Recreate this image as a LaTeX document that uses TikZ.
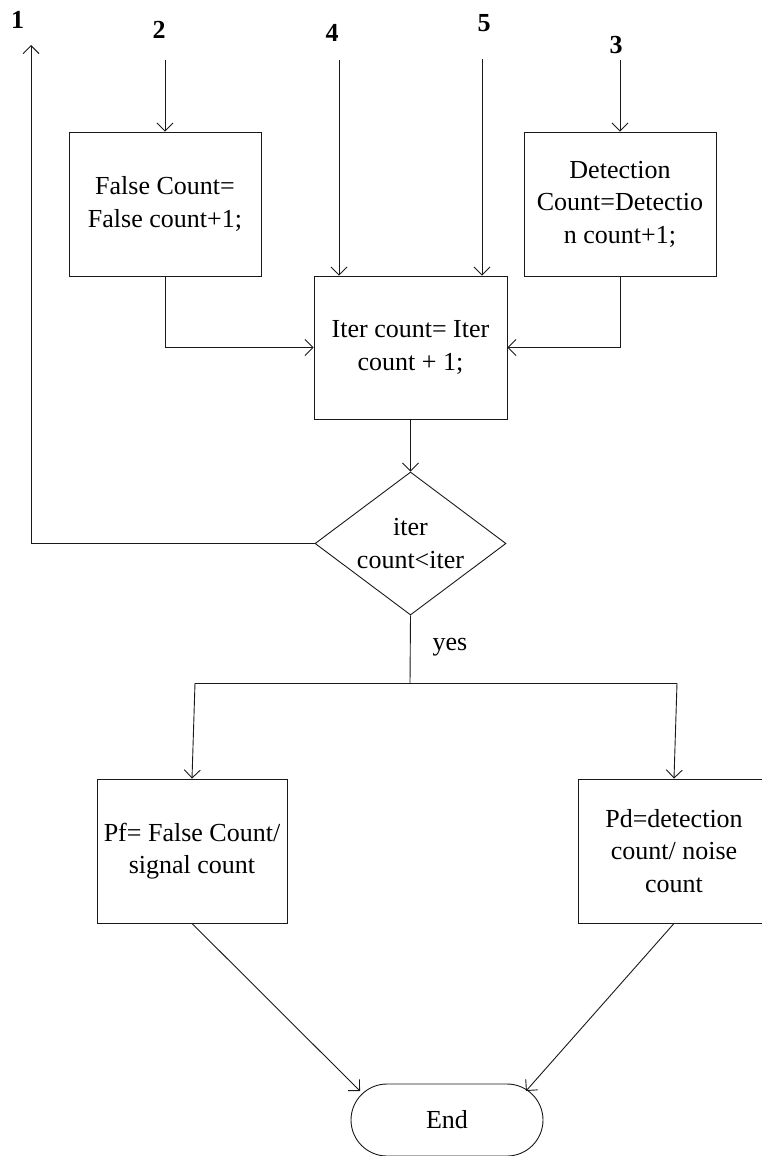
\documentclass[tikz,border=0pt]{standalone}
\usepackage{fontspec}
\setmainfont{Liberation Serif}
\usetikzlibrary{arrows.meta,shapes.geometric}

\begin{document}
\begin{tikzpicture}[x=1pt,y=-1pt,
  every node/.style={font=\fontsize{26}{32.5}\selectfont},
  line/.style={draw=black!90,line width=0.9pt},
  arr/.style={line,-{Straight Barb[length=8pt,width=16pt]}},
  box/.style={draw=black!90,line width=0.9pt,rectangle,inner sep=0pt,align=center},
  lbl/.style={font=\fontsize{26}{32.5}\selectfont\bfseries,inner sep=0pt,anchor=base}]

\useasboundingbox (0,0) rectangle (761,1156);

% process boxes
\node[box,minimum width=192pt,minimum height=144pt] (fc) at (165,204)
  {False Count=\\False count+1;};
\node[box,minimum width=192pt,minimum height=144pt] (dc) at (620,204)
  {Detection\\Count=Detectio\\n count+1;};
\node[box,minimum width=193pt,minimum height=143pt] (iter) at (410.5,347.5)
  {Iter count= Iter\\count + 1;};
\node[draw=black!90,line width=0.9pt,diamond,aspect=1.336,inner sep=0pt,
  minimum width=191pt,minimum height=143pt,align=center] (dia) at (410.5,543.5)
  {iter\\count<iter};
\node[box,minimum width=190pt,minimum height=144pt] (pf) at (192,851)
  {Pf= False Count/\\signal count};
\node[box,minimum width=192pt,minimum height=144pt] (pd) at (674,851)
  {Pd=detection\\count/ noise\\count};
\node[box,rounded corners=36pt,minimum width=192pt,minimum height=72pt] (end) at (447,1120)
  {End};

% connector labels
\node[lbl] (l1) at (17.5,29) {1};
\node[lbl] (l2) at (159,38) {2};
\node[lbl] (l4) at (332,42) {4};
\node[lbl] (l5) at (484,32) {5};
\node[lbl] (l3) at (616,53) {3};
\node[anchor=base,inner sep=0pt] (yes) at (450,650) {yes};

% free ends of connectors
\coordinate (in2) at (165,60);
\coordinate (in3) at (620,60);
\coordinate (in4) at (339,60);
\coordinate (in5) at (482,59);
\coordinate (out1) at (31,45);
\coordinate (split) at (410,683);
\coordinate (jl) at (195,683);
\coordinate (jr) at (677,683);
\coordinate (endL) at (360,1091);
\coordinate (endR) at (526,1091);

% connectors
\draw[arr] (in2) -- (fc.north);
\draw[arr] (in3) -- (dc.north);
\draw[arr] (in4) -- (in4 |- iter.north);
\draw[arr] (in5) -- (in5 |- iter.north);
\draw[arr] (fc.south) |- (iter.west);
\draw[arr] (dc.south) |- (iter.east);
\draw[arr] (iter.south) -- (dia.north);
\draw[arr] (dia.west) -| (out1);
\draw[line] (dia.south) -- (split);
\draw[line] (jl) -- (jr);
\draw[arr] (jl) -- (pf.north);
\draw[arr] (jr) -- (pd.north);
\draw[arr] (pf.south) -- (endL);
\draw[arr] (pd.south) -- (endR);
\end{tikzpicture}
\end{document}
